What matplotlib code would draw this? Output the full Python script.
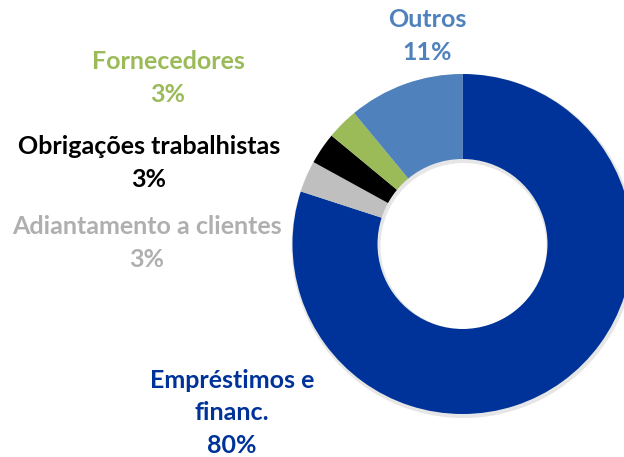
import matplotlib.pyplot as plt

# composicao do passivo
categorias = ["Empréstimos e\nfinanc.", "Adiantamento a clientes",
              "Obrigações trabalhistas", "Fornecedores", "Outros"]
valores = [80, 3, 3, 3, 11]
cores = ["#003399", "#BFBFBF", "#000000", "#9BBB59", "#4F81BD"]
cores_texto = ["#003399", "#AFAFAF", "#000000", "#9BBB59", "#4F81BD"]

# posicao dos rotulos em pixels (x, y a partir do topo)
pos_rotulos = [(232, 413), (147, 243), (149, 163), (168, 78), (427, 36)]

W, H = 624, 457
fig = plt.figure(figsize=(W / 100, H / 100), dpi=100)
ax = fig.add_axes([0, 0, 1, 1])

cx, cy, r = 462.5, H - 244, 170

# leve sombra
ax.pie([1], radius=r + 2, center=(cx + 1, cy - 2), colors=["#e6e6e6"],
       wedgeprops=dict(width=r * 0.5 + 4, linewidth=0), frame=True)
ax.pie(valores, radius=r, center=(cx, cy), colors=cores, startangle=90,
       counterclock=False, wedgeprops=dict(width=r * 0.5, linewidth=0),
       frame=True)
ax.set_xlim(0, W)
ax.set_ylim(0, H)
ax.set_aspect("equal")
ax.axis("off")

for cat, v, c, (x, y) in zip(categorias, valores, cores_texto, pos_rotulos):
    ax.text(x, H - y, f"{cat}\n{v}%", color=c, ha="center", va="center",
            fontsize=18, fontweight="bold", family="Lato", linespacing=1.5)

fig.savefig("out.png", dpi=100)
